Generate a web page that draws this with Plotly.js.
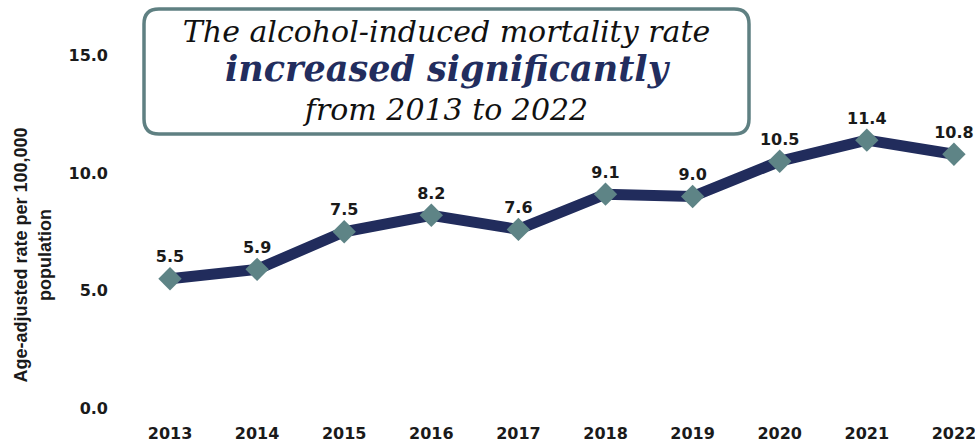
<!DOCTYPE html>
<html>
<head>
<meta charset="utf-8">
<script src="https://cdn.plot.ly/plotly-3.0.1.min.js"></script>
<style>html,body{margin:0;padding:0;background:#fff;}</style>
</head>
<body>
<div id="chart" style="width:975px;height:446px;"></div>
<script>
const years = ['2013','2014','2015','2016','2017','2018','2019','2020','2021','2022'];
const rates = [5.5, 5.9, 7.5, 8.2, 7.6, 9.1, 9.0, 10.5, 11.4, 10.8];
const yTicks = [0, 5, 10, 15];
const titleLines = ['The alcohol-induced mortality rate', 'increased significantly', 'from 2013 to 2022'];
const yTitleLines = ['Age-adjusted rate per 100,000', 'population'];

const pad = '&nbsp;'.repeat(14);
const trace = {
  type: 'scatter',
  mode: 'lines+markers+text',
  x: years,
  y: rates,
  line: {color: '#212c5c', width: 11},
  marker: {symbol: 'diamond', size: 18, color: '#5e8486', line: {width: 0}},
  texttemplate: '%{y:.1f}',
  textposition: 'top center',
  textfont: {family: 'DejaVu Sans', size: 16, color: '#1a1a1a', weight: 'bold'},
  cliponaxis: false,
  hoverinfo: 'skip'
};

const px = v => (v - 112) / 863;
const py = v => (422 - v) / 404;
const x0 = px(144), x1 = px(749), yt = py(9), yb = py(134);
const rx = 15 / 863, ry = 15 / 404;
const boxPath = `M ${x0+rx},${yt} L ${x1-rx},${yt} Q ${x1},${yt} ${x1},${yt-ry} L ${x1},${yb+ry} Q ${x1},${yb} ${x1-rx},${yb} L ${x0+rx},${yb} Q ${x0},${yb} ${x0},${yb+ry} L ${x0},${yt-ry} Q ${x0},${yt} ${x0+rx},${yt} Z`;

const layout = {
  width: 975, height: 446,
  margin: {l: 112, r: 0, t: 18, b: 24},
  paper_bgcolor: '#ffffff', plot_bgcolor: '#ffffff',
  showlegend: false,
  title: {
    text: '<i>' + titleLines[0] + '</i><br><b><i><span style="color:#222d5e;font-size:35px">' + titleLines[1] + '</span></i></b><br><i>' + titleLines[2] + '</i>',
    font: {family: 'DejaVu Serif', size: 30, color: '#111111'},
    x: 446.5 / 975, xanchor: 'center', xref: 'container',
    y: 1 - 42 / 446, yanchor: 'top', yref: 'container'
  },
  xaxis: {
    type: 'category',
    range: [-0.666, 9.242],
    showgrid: false, zeroline: false, showline: false, ticks: '',
    tickfont: {family: 'DejaVu Sans', size: 16, color: '#1a1a1a', weight: 'bold'},
    fixedrange: true
  },
  yaxis: {
    range: [-0.6, 16.6],
    tickvals: yTicks,
    tickformat: '.1f',
    ticklabelstandoff: 3,
    showgrid: false, zeroline: false, showline: false, ticks: '',
    tickfont: {family: 'DejaVu Sans', size: 16, color: '#1a1a1a', weight: 'bold'},
    title: {
      text: yTitleLines[0] + pad + '<br>' + yTitleLines[1] + pad,
      font: {family: 'Liberation Sans', size: 18, color: '#1a1a1a', weight: 'bold'},
      standoff: 12
    },
    automargin: false,
    fixedrange: true
  },
  shapes: [{
    type: 'path', xref: 'paper', yref: 'paper', path: boxPath,
    fillcolor: '#ffffff', line: {color: '#5f8082', width: 3.5}, layer: 'above'
  }]
};

Plotly.newPlot('chart', [trace], layout, {displayModeBar: false, staticPlot: true});
</script>
</body>
</html>
